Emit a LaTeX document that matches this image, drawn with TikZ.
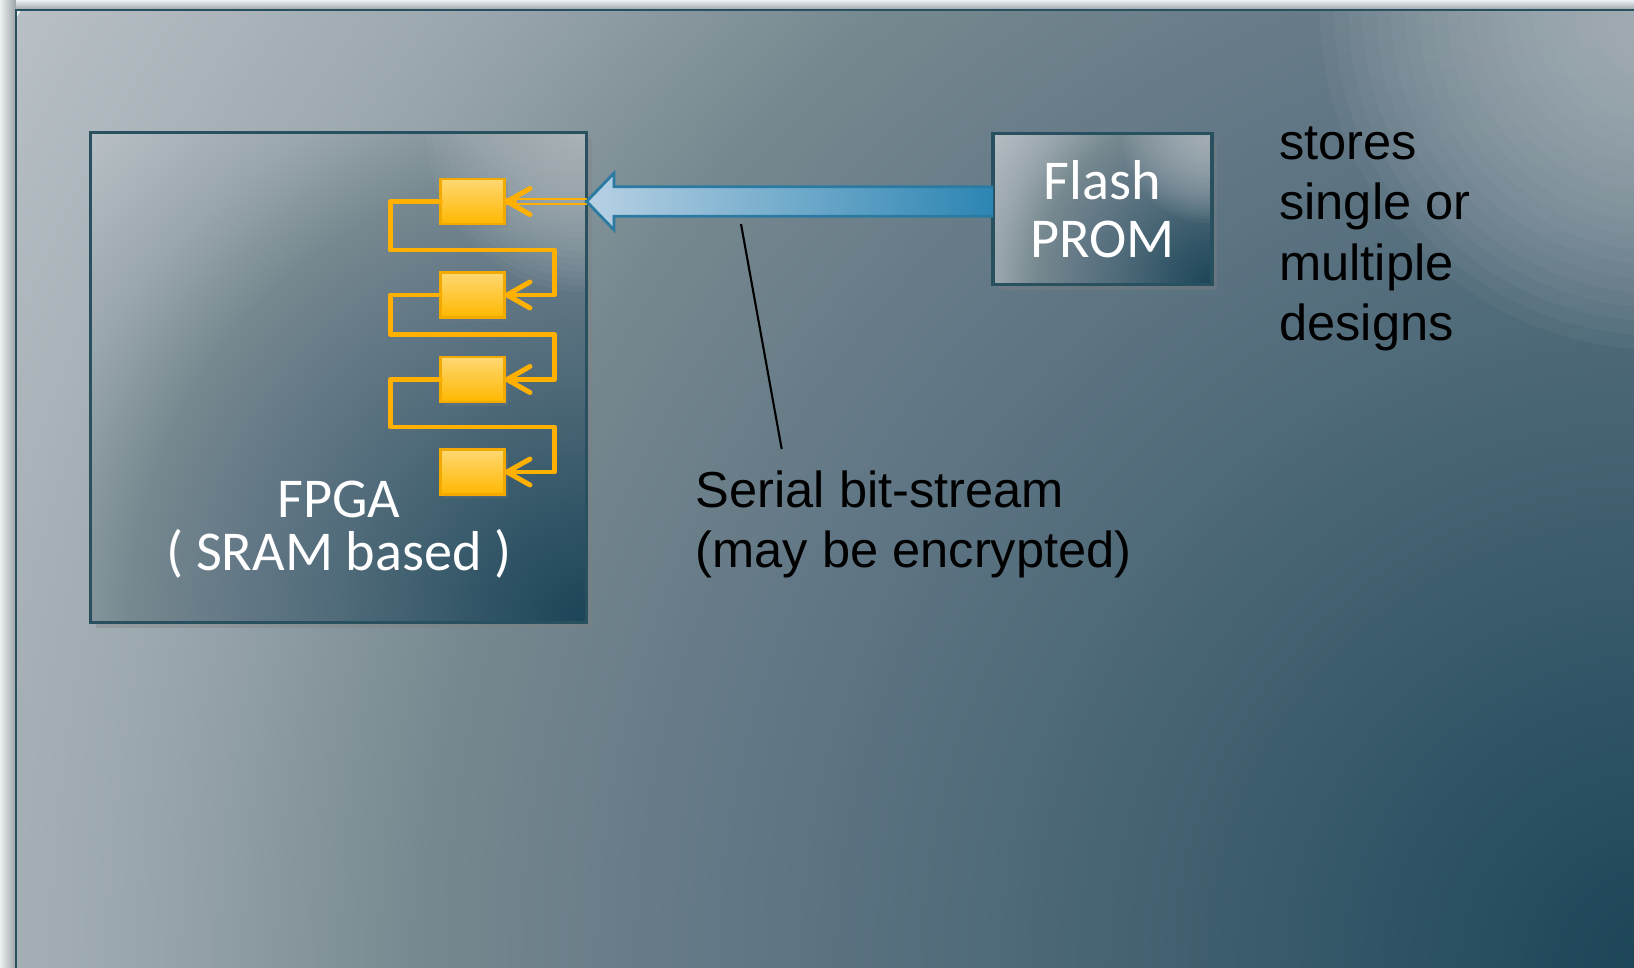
\documentclass[tikz,border=0pt]{standalone}
\usepackage{fontspec}
\setmainfont{Liberation Sans}
\newfontfamily\chipfont{Carlito}
\usetikzlibrary{positioning}
\usetikzlibrary{calc}
\usetikzlibrary{arrows.meta}
\usetikzlibrary{shadows}

\definecolor{slate0}{HTML}{1B4456}
\definecolor{slate1}{HTML}{385A6B}
\definecolor{slate2}{HTML}{4F6A79}
\definecolor{slate3}{HTML}{637886}
\definecolor{slate4}{HTML}{76888F}
\definecolor{slate5}{HTML}{9AA6AD}
\definecolor{slate6}{HTML}{B8C0C5}
\definecolor{sheenclr}{HTML}{BCC4C9}
\definecolor{chipedge}{HTML}{29505F}
\definecolor{pagebg}{HTML}{EDF0F1}
\definecolor{pageshade}{HTML}{9AA3A8}
\definecolor{busL}{HTML}{B8D1E4}
\definecolor{busR}{HTML}{2C85B3}
\definecolor{busedge}{HTML}{2A7AA2}
\definecolor{ffedge}{HTML}{F2A900}
\definecolor{ffhi}{HTML}{FFD873}
\definecolor{fflo}{HTML}{FFB800}
\definecolor{wire}{HTML}{FFB000}

\pgfdeclareradialshading{slate}{\pgfpointorigin}{color(0bp)=(slate0); color(5bp)=(slate1); color(8.75bp)=(slate2); color(12.5bp)=(slate3); color(16.25bp)=(slate4); color(20bp)=(slate5); color(25bp)=(slate6); color(50bp)=(slate6)}

% dark corner bottom right, light corner top right
\newcommand{\slatefill}[2]{%
  \shade[shading=slate] (path picture bounding box.south east) circle (#1);
  \foreach \s in {1,...,24}
    \fill[sheenclr, opacity=0.06] (path picture bounding box.north east) circle ({\s*#2/24});
}

\begin{document}
\begin{tikzpicture}[
    chip/.style={draw=chipedge, line width=0.9pt, inner sep=0pt, outer sep=0pt,
        drop shadow={opacity=0.35, shadow xshift=0.5mm, shadow yshift=-0.6mm}},
    ffbox/.style={draw=ffedge, line width=0.7pt, top color=ffhi, bottom color=fflo,
        minimum width=0.64cm, minimum height=0.45cm, inner sep=0pt, outer sep=0pt,
        drop shadow={opacity=0.25, shadow xshift=0.3mm, shadow yshift=-0.4mm}},
    ffwire/.style={draw=wire, line width=1.4pt, line join=round, line cap=round,
        -{Straight Barb[round, length=2.3mm, width=2.6mm]}},
    feedline/.style={draw=wire, line width=0.5pt},
    bus/.style={draw=busedge, line width=0.8pt, left color=busL, right color=busR},
    whitetext/.style={inner sep=0pt, text=white, align=center},
    note/.style={inner sep=0pt, align=left, font=\fontsize{14.4}{17.2}\selectfont},
    pointer/.style={draw=black, line width=0.6pt}
]
    \useasboundingbox (0,0) rectangle (16.34,-9.68);
    \clip (0,0) rectangle (16.34,-9.68);

    % page and slide
    \fill[pagebg] (0,0) rectangle (16.34,-9.68);
    \shade[left color=pagebg, right color=pageshade] (0,0) rectangle (0.16,-9.68);
    \shade[top color=pagebg, bottom color=pageshade] (0.16,0) rectangle (16.34,-0.10);
    \draw[draw=chipedge, line width=0.8pt, path picture={\slatefill{19}{3.4}}]
        (0.16,-0.10) rectangle (16.6,-9.72);

    % chips
    \node[chip, minimum width=4.96cm, minimum height=4.9cm,
        path picture={\slatefill{7}{1.6}}] (fpga) at (3.3865,-3.7715) {};
    \node[chip, minimum width=2.19cm, minimum height=1.51cm,
        path picture={\slatefill{2.7}{0.9}}, text=white, align=center,
        font=\chipfont\fontsize{16}{16.5}\selectfont] (flash) at (11.025,-2.09) {Flash\\PROM};

    % configuration chain
    \foreach \k/\y in {1/-2.015, 2/-2.95, 3/-3.795, 4/-4.72}
        \node[ffbox] (ff\k) at (4.725,\y) {};

    \foreach \a/\b in {ff1/ff2, ff2/ff3, ff3/ff4}
        \draw[ffwire] (\a.west) -- ++(-0.5,0) |- ($(\b.east)+(0.5,0.45)$) |- (\b.east);

    \coordinate (tip) at (fpga.east |- ff1.east);
    \coordinate (src) at (flash.west |- ff1.east);

    \draw[feedline] ([yshift=0.25mm]tip) -- ([yshift=0.25mm]ff1.east);
    \draw[feedline] ([yshift=-0.25mm]tip) -- ([yshift=-0.25mm]ff1.east);
    \draw[ffwire] ([xshift=1mm]ff1.east) -- (ff1.east);

    % bit-stream
    \path[bus] ([yshift=1.47mm]src) -- ([xshift=2.74mm,yshift=1.47mm]tip)
        -- ([xshift=2.74mm,yshift=2.85mm]tip) -- (tip)
        -- ([xshift=2.74mm,yshift=-2.85mm]tip) -- ([xshift=2.74mm,yshift=-1.47mm]tip)
        -- ([yshift=-1.47mm]src);

    % labels
    \node[whitetext, anchor=base, font=\chipfont\fontsize{16}{15.2}\selectfont]
        (fpganame) at (3.39,-5.71) {FPGA\\( SRAM based )};
    \node[note, anchor=base west] (serial) at (6.95,-5.68) {Serial bit-stream\\(may be encrypted)};
    \node[note, anchor=base west] (stores) at (12.785,-3.407) {stores\\single or\\multiple\\designs};

    \coordinate (tap) at (7.41,-2.24);
    \coordinate (tapend) at (7.817,-4.49);
    \draw[pointer] (tap) -- (tapend);
\end{tikzpicture}
\end{document}
